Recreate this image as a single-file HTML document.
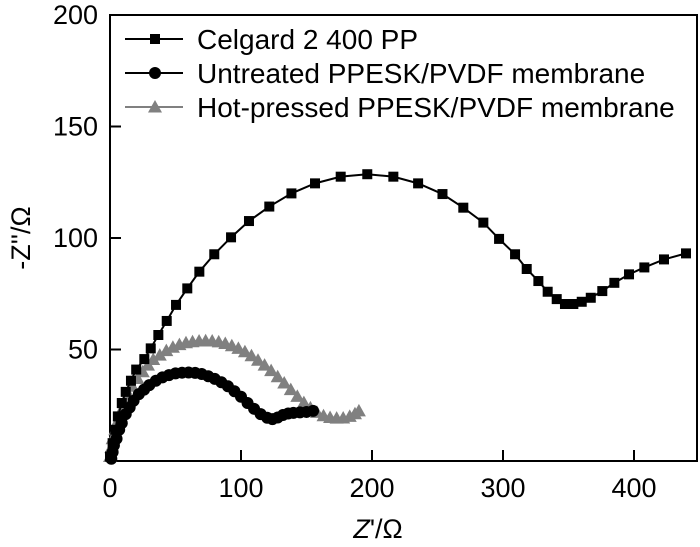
<!DOCTYPE html>
<html><head><meta charset="utf-8"><style>
body{margin:0;background:#fff}
svg{display:block;font-family:"Liberation Sans",Arial,sans-serif}
</style></head><body>
<svg id="chart" width="700" height="547" viewBox="0 0 700 547">
<g id="axes"></g><g id="series"></g><g id="legend"></g>
</svg>
<script>
const xTicks=[0,100,200,300,400];
const yTicks=[50,100,150,200];
const celX=[0,2,4,6,9,12,16,20,26.2,31.1,36.9,43.3,50.4,59,68.2,79.6,92.4,106.1,121.6,138.5,156.5,176.1,196.4,216.3,235.2,253.8,269.7,285,297,309.2,318.1,327,334.1,341,347.3,353.7,360.1,367,375.8,385,396.2,407.9,422.9,439.7];
const celY=[2,8,14,20,26,31,36,41,45.7,50.5,56.5,62.8,70,77.4,84.9,92.7,100.3,107.6,114.1,120,124.5,127.5,128.6,127.5,124.5,119.7,113.6,106.9,99.6,92.7,86.1,80.7,75.9,72.6,70.4,70.4,71.4,73.2,76.2,79.9,83.7,86.8,90.4,93.1];
const untX=[1,2,3,5,7,9,12,15,18,22,26,30,35,40,45,50,55,60,65,70,75,80,85,90,95,100,105,110,115,120,124,128,132,136,140,145,150,155];
const untY=[1,4,7,10,14,17,21,24,27,30,32,34,36,37.5,38.5,39.3,39.6,39.7,39.5,39,38,36.8,35.3,33.5,31.3,28.8,26,23.4,21,19.4,18.8,19.5,20.6,21.3,21.6,21.8,22,22.5];
const hotX=[0,1,2,4,6,8,11,14,17,21,25,29,33,38,43,48,53,58,63,68,73,78,83,88,93,98,103,108,113,118,123,128,133,138,143,148,153,158,163,168,173,178,183,187,190];
const hotY=[2,6,10,14,18,22,26,30,33.5,37,40,43,45.5,47.5,49.5,51,52.2,53,53.5,53.8,53.9,53.8,53.4,52.7,51.7,50.5,49,47.2,45.2,43,40.5,37.8,35,32,29,26.2,23.8,21.8,20.3,19.5,19.2,19.3,20,21.2,22.5];
const legendLabels=["Celgard 2 400 PP","Untreated PPESK/PVDF membrane","Hot-pressed PPESK/PVDF membrane"];

const NS="http://www.w3.org/2000/svg";
const X0=110,Y0=461;
const sx=v=>X0+v*1.31;
const sy=v=>Y0-v*2.23;
function mk(tag,attrs,parent,text){const e=document.createElementNS(NS,tag);for(const k in attrs)e.setAttribute(k,attrs[k]);if(text!==undefined)e.textContent=text;parent.appendChild(e);return e;}
const axes=document.getElementById('axes'),ser=document.getElementById('series'),leg=document.getElementById('legend');
let a=mk('rect',{x:X0,y:15,width:587,height:Y0-15,fill:'none',stroke:'#000','stroke-width':2},axes);


xTicks.forEach(v=>{
 mk('line',{x1:sx(v),y1:Y0,x2:sx(v),y2:Y0-11,stroke:'#000','stroke-width':2},axes);
 const t=mk('text',{x:sx(v),y:497,'text-anchor':'middle','font-size':27},axes,String(v));
 
 
});
yTicks.forEach(v=>{
 mk('line',{x1:X0,y1:sy(v),x2:X0+11,y2:sy(v),stroke:'#000','stroke-width':2},axes);
 const t=mk('text',{x:98,y:sy(v)+9,'text-anchor':'end','font-size':27},axes,String(v));
 
 
});
let xt=mk('text',{x:378,y:538,'text-anchor':'middle','font-size':27},axes);


mk('tspan',{'font-style':'italic'},xt,'Z');mk('tspan',{},xt,"'/Ω");
let yt=mk('text',{x:0,y:0,'text-anchor':'middle','font-size':27,transform:'translate(30,238) rotate(-90)'},axes,"-Z''/Ω");



function marker(type,cx,cy,g,color){
 if(type==='sq')return mk('rect',{x:cx-5,y:cy-5,width:10,height:10,fill:color},g);
 if(type==='ci')return mk('circle',{cx:cx,cy:cy,r:6,fill:color},g);
 return mk('polygon',{points:`${cx},${cy-7} ${cx+7},${cy+5.5} ${cx-7},${cy+5.5}`,fill:color},g);
}
function series(xs,ys,type,color,name){
 const g=mk('g',{},ser);
 
 
 mk('polyline',{points:xs.map((x,i)=>sx(x)+','+sy(ys[i])).join(' '),fill:'none',stroke:color,'stroke-width':2},g);
 xs.forEach((x,i)=>{const m=marker(type,sx(x),sy(ys[i]),g,color);
  
  });
}
series(hotX,hotY,'tr','#808080','hot-pressed-series');
series(untX,untY,'ci','#000','untreated-series');
series(celX,celY,'sq','#000','celgard-series');

const types=['sq','ci','tr'],cols=['#000','#000','#808080'],ly=[39,73,107];
legendLabels.forEach((lab,i)=>{
 const g=mk('g',{},leg);
 
 
 mk('line',{x1:125,y1:ly[i],x2:183,y2:ly[i],stroke:cols[i],'stroke-width':2},g);
 marker(types[i],155,ly[i],g,cols[i]);
 mk('text',{x:197,y:ly[i]+10,'font-size':28,fill:'#000'},g,lab);
});
</script>
</body></html>
